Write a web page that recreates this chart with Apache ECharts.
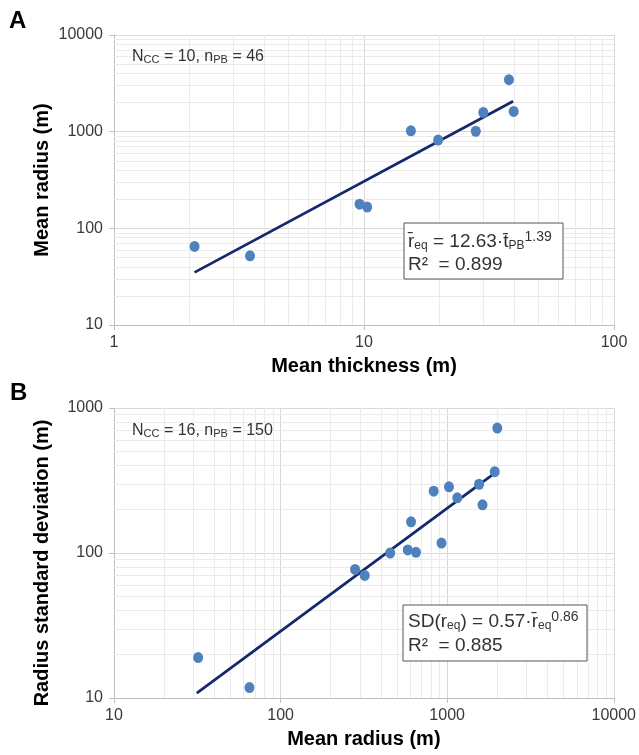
<!DOCTYPE html>
<html>
<head>
<meta charset="utf-8">
<script src="https://cdn.jsdelivr.net/npm/echarts@6/dist/echarts.min.js"></script>
<style>
html, body { margin: 0; padding: 0; background: #fff; }
#main { width: 639px; height: 755px; }
</style>
</head>
<body>
<div id="main"></div>
<script>
// panel A: mean thickness vs mean radius
var thicknessA = [2.1, 3.5, 9.6, 10.3, 15.4, 19.8, 28, 30, 38, 39.7];
var radiusA = [65, 52, 178, 166, 1020, 820, 1010, 1580, 3450, 1620];
var fitA = [[2.1, 35], [39.5, 2060]];

// panel B: mean radius vs radius standard deviation
var radiusB = [32, 65, 280, 320, 455, 580, 650, 607, 830, 925, 1025, 1150, 1555, 1630, 1930, 2000];
var sdB = [19, 11.8, 77, 70, 100, 105, 101, 164, 267, 117, 286, 240, 298, 215, 364, 727];
var fitB = [[31.4, 10.8], [1930, 355]];

var chart = echarts.init(document.getElementById('main'));

var FONT = 'Arial, "Liberation Sans", sans-serif';
var blue = '#4f81bd';
var navy = '#14286b';

function pairs(xs, ys) {
    var out = [];
    for (var i = 0; i < xs.length; i++) out.push([xs[i], ys[i]]);
    return out;
}

// minor grid positions 2..9 x each decade
function minorVals(lo, hi) {
    var out = [];
    for (var d = lo; d < hi; d *= 10) {
        for (var m = 2; m <= 9; m++) out.push(m * d);
    }
    return out;
}

function minorLines(xLo, xHi, yLo, yHi) {
    var data = [];
    minorVals(xLo, xHi).forEach(function (v) { data.push({xAxis: v}); });
    minorVals(yLo, yHi).forEach(function (v) { data.push({yAxis: v}); });
    return {
        silent: true,
        z: 1,
        symbol: 'none',
        label: {show: false},
        lineStyle: {color: '#ebebeb', width: 1, type: 'solid'},
        emphasis: {disabled: true},
        animation: false,
        data: data
    };
}

function logAxis(idx, min, max, name, nameGap, pos, namePad) {
    return {
        type: 'log',
        logBase: 10,
        gridIndex: idx,
        position: pos,
        min: min,
        max: max,
        name: name,
        nameLocation: 'middle',
        nameGap: nameGap,
        nameMoveOverlap: false,
        nameTextStyle: {fontFamily: FONT, fontSize: 20, fontWeight: 'bold', color: '#000', padding: namePad || 0},
        axisLine: {show: true, lineStyle: {color: '#bfbfbf', width: 1}},
        axisTick: {show: true, length: 5, lineStyle: {color: '#bfbfbf'}},
        axisLabel: {
            fontFamily: FONT, fontSize: 16, color: '#3a3a3a',
            margin: pos === 'left' ? 11 : 10,
            formatter: function (v) { return String(Math.round(v)); }
        },
        splitLine: {show: true, lineStyle: {color: '#d9d9d9', width: 1}},
        minorTick: {show: false},
        minorSplitLine: {show: false}
    };
}

function txt(color, size) {
    return {fontFamily: FONT, fontSize: size, fill: color, color: color};
}

var option = {
    backgroundColor: '#fff',
    animation: false,
    grid: [
        {left: 114, top: 35, width: 500, height: 290},
        {left: 114, top: 408, width: 500, height: 290}
    ],
    xAxis: [
        logAxis(0, 1, 100, 'Mean thickness (m)', 31, 'bottom'),
        logAxis(1, 10, 10000, 'Mean radius (m)', 31, 'bottom')
    ],
    yAxis: [
        logAxis(0, 10, 10000, 'Mean radius (m)', 62, 'left'),
        logAxis(1, 10, 1000, 'Radius standard deviation (m)', 62, 'left', [0, 20, 0, 0])
    ],
    series: [
        {
            type: 'line', xAxisIndex: 0, yAxisIndex: 0, z: 2,
            data: fitA, symbol: 'none',
            lineStyle: {color: navy, width: 2.75},
            markLine: minorLines(1, 100, 10, 10000)
        },
        {
            type: 'scatter', xAxisIndex: 0, yAxisIndex: 0, z: 3,
            data: pairs(thicknessA, radiusA),
            symbolSize: [10, 11],
            itemStyle: {color: blue, opacity: 1}
        },
        {
            type: 'line', xAxisIndex: 1, yAxisIndex: 1, z: 2,
            data: fitB, symbol: 'none',
            lineStyle: {color: navy, width: 2.75},
            markLine: minorLines(10, 10000, 10, 1000)
        },
        {
            type: 'scatter', xAxisIndex: 1, yAxisIndex: 1, z: 3,
            data: pairs(radiusB, sdB),
            symbolSize: [10, 11],
            itemStyle: {color: blue, opacity: 1}
        }
    ],
    graphic: [
        {type: 'text', left: 9, top: 9, z: 10, style: {text: 'A', font: 'bold 24px ' + FONT, fill: '#000'}},
        {type: 'text', left: 10, top: 381, z: 10, style: {text: 'B', font: 'bold 24px ' + FONT, fill: '#000'}},
        {
            type: 'text', left: 132, top: 49, z: 10,
            style: {
                text: '{t|N}{s|CC}{t| = 10, n}{s|PB}{t| = 46}',
                rich: {
                    t: txt('#333', 16),
                    s: Object.assign(txt('#333', 11), {padding: [6, 0, 0, 0]})
                }
            }
        },
        {
            type: 'text', left: 132, top: 423, z: 10,
            style: {
                text: '{t|N}{s|CC}{t| = 16, n}{s|PB}{t| = 150}',
                rich: {
                    t: txt('#333', 16),
                    s: Object.assign(txt('#333', 11), {padding: [6, 0, 0, 0]})
                }
            }
        },
        {type: 'rect', z: 10, shape: {x: 404, y: 223, width: 159, height: 56}, style: {fill: '#fff', stroke: '#555', lineWidth: 1}},
        {
            type: 'text', left: 408, top: 230, z: 11,
            style: {
                text: '{t|r\u0304}{s|eq}{t| = 12.63\u00b7t\u0304}{s|PB}{p|1.39}\n{t|R\u00b2  = 0.899}',
                rich: {
                    t: Object.assign(txt('#333', 19), {lineHeight: 22}),
                    s: Object.assign(txt('#333', 12), {padding: [8, 0, 0, 0]}),
                    p: Object.assign(txt('#333', 14), {padding: [0, 0, 10, 0]})
                }
            }
        },
        {type: 'rect', z: 10, shape: {x: 403, y: 605, width: 184, height: 56}, style: {fill: '#fff', stroke: '#555', lineWidth: 1}},
        {
            type: 'text', left: 408, top: 610, z: 11,
            style: {
                text: '{t|SD(r}{s|eq}{t|) = 0.57\u00b7r\u0304}{s|eq}{p|0.86}\n{t|R\u00b2  = 0.885}',
                rich: {
                    t: Object.assign(txt('#333', 19), {lineHeight: 23}),
                    s: Object.assign(txt('#333', 12), {padding: [8, 0, 0, 0]}),
                    p: Object.assign(txt('#333', 14), {padding: [0, 0, 10, 0]})
                }
            }
        }
    ]
};

chart.setOption(option);
window.onresize = function () {
    chart.resize();
};
</script>
</body>
</html>
